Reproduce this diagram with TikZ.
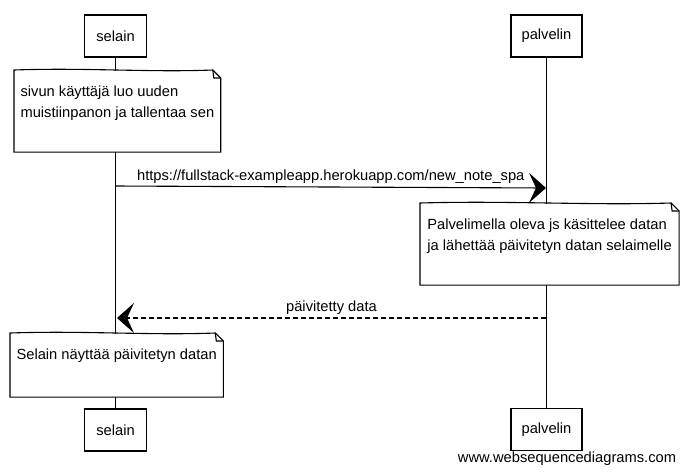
\documentclass[tikz,border=0pt]{standalone}
\usepackage{fontspec}
\setmainfont{Liberation Sans}
\usetikzlibrary{arrows.meta, calc, positioning}

\newcommand{\seqfont}{\fontsize{14.7}{21}\selectfont}
\newcommand{\notebox}[1]{%
  \draw (#1.north west) .. controls ($(#1.north west)!.35!(#1.north east)+(0,-2.5)$) and ($(#1.north west)!.65!(#1.north east)+(0,2.5)$) .. ([xshift=-8pt]#1.north east)
    -- ([yshift=-8pt]#1.north east) -- (#1.south east) -- (#1.south west) -- cycle;
  \draw ([xshift=-8pt]#1.north east) -- ([xshift=-7pt,yshift=-8pt]#1.north east) -- ([yshift=-8pt]#1.north east);}

\begin{document}
\begin{tikzpicture}[x=1pt, y=-1pt, line width=1.1pt, font=\seqfont,
  actor/.style={draw, minimum height=42pt},
  note/.style={fill=white, align=left, anchor=north west, inner xsep=6pt, inner ysep=15pt},
  msg/.style={-{Stealth[length=17pt, width=30pt, inset=7pt]}},
  reply/.style={msg, dash pattern=on 5pt off 3pt}]

  \useasboundingbox (0,0) rectangle (682,475);

  % participants
  \node[actor, minimum width=62pt] (selTop) at (115.5,36) {selain};
  \node[actor, minimum width=71pt] (palTop) at (546.5,36) {palvelin};
  \node[actor, minimum width=62pt] (selBot) at (115.5,430) {selain};
  \node[actor, minimum width=71pt] (palBot) at (546.5,429.5) {palvelin};

  \draw (selTop) -- (selBot);
  \draw (palTop) -- (palBot);

  % notes
  \node[note, minimum width=202pt, text depth=19.3pt] (selNote1) at (14,70)
    {sivun käyttäjä luo uuden\\muistiinpanon ja tallentaa sen};
  \notebox{selNote1}
  \node[note, minimum width=258pt, text depth=19.3pt] (palNote) at (420,203)
    {Palvelimella oleva js käsittelee datan\\ja lähettää päivitetyn datan selaimelle};
  \notebox{palNote}
  \node[note, minimum width=211pt, text depth=22.3pt] (selNote2) at (10,333)
    {Selain näyttää päivitetyn datan};
  \notebox{selNote2}

  % messages
  \coordinate (m1s) at (115.5,186);
  \coordinate (m1e) at (546,188);
  \draw[msg] (m1s) -- node[above, inner sep=3pt] {https://fullstack-exampleapp.herokuapp.com/new\_note\_spa} (m1e);

  \coordinate (m2s) at (546,318);
  \coordinate (m2e) at (117,318);
  \draw[reply] (m2s) -- node[above, inner sep=2.5pt] {päivitetty data} (m2e);

  \node (wsd) at (567,459) {www.websequencediagrams.com};

\end{tikzpicture}
\end{document}
